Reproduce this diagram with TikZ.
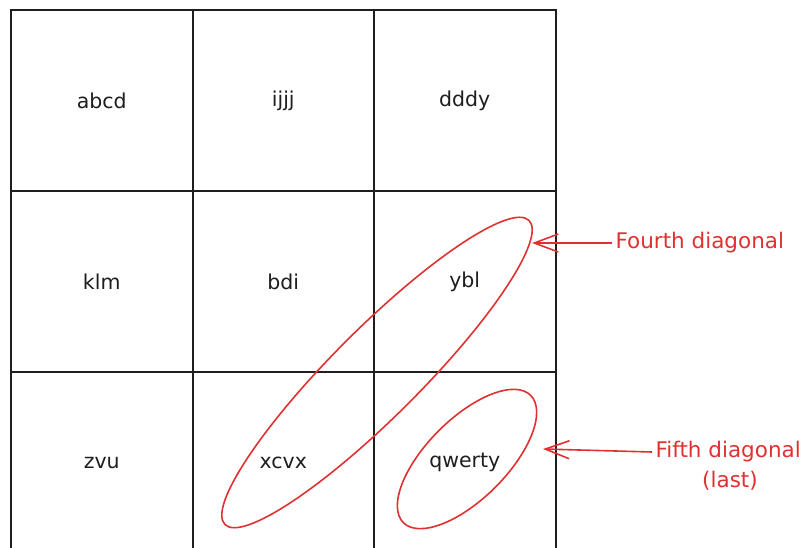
\documentclass[tikz,border=0pt]{standalone}
\usepackage{fontspec}
\setmainfont{DejaVu Sans}
\usetikzlibrary{positioning,shapes.geometric,arrows.meta}
\definecolor{ink}{HTML}{1E1E1E}
\definecolor{inkred}{HTML}{E03131}

\begin{document}
\begin{tikzpicture}[
    x=1pt, y=1pt,
    cell/.style={rectangle, draw=ink, line width=2pt, minimum size=181.5pt, inner sep=0pt, text=ink, font=\fontsize{20.5}{24}\selectfont},
    diag/.style={ellipse, draw=inkred, line width=1.6pt, inner sep=0pt, rotate=45},
    lbl/.style={font=\fontsize{21.5}{26}\selectfont, text=inkred},
    arr/.style={draw=inkred, line width=1.6pt, -{Straight Barb[length=24pt,width=18pt]}}
]
  \useasboundingbox (0,0) rectangle (810,547);
  \clip (0,0) rectangle (810,547);
  % Grid cells
  \node[cell] (c11) at (101.75,446.5) {abcd};
  \node[cell] (c12) at (283.25,446.5) {ijjj};
  \node[cell] (c13) at (464.75,446.5) {dddy};
  \node[cell] (c21) at (101.75,265.5) {klm};
  \node[cell] (c22) at (283.25,265.5) {bdi};
  \node[cell] (c23) at (464.75,265.5) {ybl};
  \node[cell] (c31) at (101.75,84.5) {zvu};
  \node[cell] (c32) at (283.25,84.5) {xcvx};
  \node[cell] (c33) at (464.75,84.5) {qwerty};
  % Diagonals
  \node[diag, minimum width=430pt, minimum height=88pt] (diag4) at (377,174.5) {};
  \node[diag, minimum width=180pt, minimum height=80pt] (diag5) at (467,88) {};
  % Labels
  \node[lbl, anchor=west] (fourth) at (612,304) {Fourth diagonal};
  \node[lbl, anchor=west] (fifth) at (652,95) {Fifth diagonal};
  \node[lbl] (last) at (730,66) {(last)};
  % Arrows
  \coordinate (tip4) at (532,304);
  \coordinate (tip5) at (543,98);
  \draw[arr] (fourth.west) -- (tip4);
  \draw[arr] (fifth.west) -- (tip5);
\end{tikzpicture}
\end{document}
